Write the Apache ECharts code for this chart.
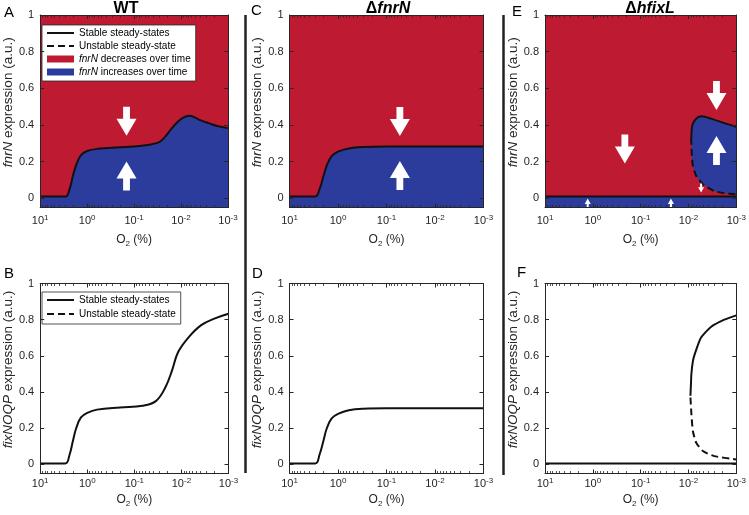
<!DOCTYPE html>
<html><head><meta charset="utf-8">
<script src="https://cdn.jsdelivr.net/npm/echarts@6/dist/echarts.min.js"></script>
<style>html,body{margin:0;padding:0;background:#fff}#c{width:749px;height:515px}</style>
</head><body><div id="c"></div>
<script>
// ---------------- data ----------------
const Y_TICKS = [0, 0.2, 0.4, 0.6, 0.8, 1];
// minor tick positions of the logarithmic O2 axis
const O2_MINOR_TICKS = [9, 8, 7, 6, 5, 4, 3, 2,
  0.9, 0.8, 0.7, 0.6, 0.5, 0.4, 0.3, 0.2,
  0.09, 0.08, 0.07, 0.06, 0.05, 0.04, 0.03, 0.02,
  0.009, 0.008, 0.007, 0.006, 0.005, 0.004, 0.003, 0.002];

// Panel A: WT, fnrN stable steady state
const wtFnrO2  = [10, 2.9, 2.37, 2.02, 1.72, 1.36, 1.0, 0.6, 0.2, 0.1, 0.056, 0.03, 0.022, 0.016, 0.012, 0.009, 0.0066, 0.005, 0.0038, 0.0026, 0.0017, 0.001];
const wtFnrVal = [0.01, 0.01, 0.05, 0.12, 0.18, 0.235, 0.258, 0.27, 0.278, 0.283, 0.29, 0.305, 0.335, 0.38, 0.415, 0.44, 0.45, 0.44, 0.425, 0.41, 0.395, 0.383];

// Panel B: WT, fixNOQP stable steady state
const wtFixO2  = [10, 2.95, 2.37, 2.02, 1.72, 1.36, 1.0, 0.62, 0.2, 0.067, 0.035, 0.022, 0.0158, 0.0118, 0.0072, 0.0038, 0.002, 0.001];
const wtFixVal = [0.005, 0.005, 0.055, 0.13, 0.2, 0.26, 0.285, 0.303, 0.315, 0.324, 0.35, 0.425, 0.52, 0.62, 0.70, 0.77, 0.806, 0.833];

// Panel C: dfnrN, fnrN stable steady state
const dfnrFnrO2  = [10, 2.95, 2.4, 2.0, 1.7, 1.35, 1.0, 0.6, 0.3, 0.1, 0.01, 0.001];
const dfnrFnrVal = [0.01, 0.01, 0.05, 0.12, 0.18, 0.23, 0.255, 0.272, 0.28, 0.283, 0.283, 0.283];

// Panel D: dfnrN, fixNOQP stable steady state
const dfnrFixO2  = [10, 2.95, 2.4, 2.0, 1.7, 1.35, 1.0, 0.6, 0.3, 0.1, 0.01, 0.001];
const dfnrFixVal = [0.005, 0.005, 0.055, 0.13, 0.2, 0.255, 0.28, 0.3, 0.308, 0.31, 0.31, 0.31];

// Panel E: dhfixL, fnrN
const dfixFnrLowO2  = [10, 0.001];
const dfixFnrLowVal = [0.01, 0.01];
const dfixFnrUpO2   = [0.0087, 0.0086, 0.0083, 0.0074, 0.0063, 0.0052, 0.0034, 0.00178, 0.001];
const dfixFnrUpVal  = [0.33, 0.37, 0.40, 0.425, 0.443, 0.448, 0.435, 0.41, 0.39];
const dfixFnrUnO2   = [0.0088, 0.00868, 0.0085, 0.0081, 0.0069, 0.005, 0.0029, 0.00178, 0.001];
const dfixFnrUnVal  = [0.33, 0.28, 0.23, 0.177, 0.122, 0.077, 0.04, 0.028, 0.022];

// Panel F: dhfixL, fixNOQP
const dfixFixLowO2  = [10, 0.001];
const dfixFixLowVal = [0.005, 0.005];
const dfixFixUpO2   = [0.0091, 0.0089, 0.0087, 0.0081, 0.0074, 0.0055, 0.0034, 0.00178, 0.001];
const dfixFixUpVal  = [0.38, 0.44, 0.50, 0.57, 0.61, 0.70, 0.76, 0.80, 0.824];
const dfixFixUnO2   = [0.0091, 0.0087, 0.0081, 0.0069, 0.005, 0.0029, 0.001];
const dfixFixUnVal  = [0.37, 0.28, 0.185, 0.12, 0.074, 0.046, 0.028];

// arrows (O2 %, expression) and direction
const arrowsA = [[0.145, 0.42], [0.145, 0.122]];
const arrowsADir = ['down', 'up'];
const arrowsC = [[0.053, 0.419], [0.053, 0.124]];
const arrowsCDir = ['down', 'up'];
const arrowsE = [[0.214, 0.269], [0.0026, 0.561], [0.0026, 0.261]];
const arrowsEDir = ['down', 'down', 'up'];
const smallArrowsE = [[0.00545, 0.056], [1.28, -0.026], [0.0233, -0.026]];
const smallArrowsEDir = ['down', 'up', 'up'];

// ---------------- styling ----------------
const RED = '#BE1B32', BLUE = '#2B3C9D', INK = '#262626', CURVE = '#111111';
const FONT = 'Liberation Sans, Arial, Helvetica, sans-serif';
const DOWN = 'path://M6.6,0L13.4,0L13.4,12L20,12L10,29L0,12L6.6,12Z';
const UP = 'path://M10,0L20,17L13.4,17L13.4,29L6.6,29L6.6,17L0,17Z';

const zip = (xs, ys) => xs.map((x, i) => [x, ys[i]]);

const grids = [
  {left: 34, top: 15, width: 194, height: 192.5},
  {left: 289.5, top: 15, width: 194, height: 192.5},
  {left: 545, top: 15, width: 194, height: 192.5},
  {left: 34.5, top: 283.5, width: 194, height: 190},
  {left: 289.5, top: 283.5, width: 194, height: 190},
  {left: 545, top: 283.5, width: 194, height: 190}
].map((g, i) => Object.assign(g, {
  show: true, borderWidth: 0,
  backgroundColor: i < 3 ? RED : '#ffffff'
}));

const xAxes = [], yAxes = [];
grids.forEach((g, i) => {
  const topRow = i < 3;
  const base = {
    type: 'log', logBase: 10, min: 0.001, max: 10, inverse: true, gridIndex: i, z: 10,
    splitLine: {show: false},
    axisLine: {show: true, onZero: false, lineStyle: {color: INK, width: 1}},
    axisTick: {show: true, inside: true, length: 4, lineStyle: {color: INK}}
  };
  xAxes.push(Object.assign({}, base, {
    position: 'bottom',
    name: 'O{sub|2} (%)', nameLocation: 'middle', nameGap: topRow ? 25 : 19,
    nameTextStyle: {fontSize: 12, color: INK, fontFamily: FONT,
      rich: {sub: {fontSize: 8, color: INK, fontFamily: FONT, padding: [7, 0, 0, 0]}}},
    axisLabel: {
      margin: topRow ? 6 : 3, color: INK,
      formatter: v => '{b|10}{s|' + Math.round(Math.log10(v)) + '}',
      rich: {
        b: {fontSize: 11, color: INK, fontFamily: FONT},
        s: {fontSize: 8, color: INK, fontFamily: FONT, padding: [0, 0, 7, 0]}
      }
    }
  }));
  xAxes.push(Object.assign({}, base, {position: 'top', axisLabel: {show: false}}));
  const ybase = {
    type: 'value', min: -0.05, max: 1, gridIndex: i, z: 10,
    splitLine: {show: false},
    axisLine: {show: true, onZero: false, lineStyle: {color: INK, width: 1}},
    axisTick: {show: true, inside: true, length: 4, customValues: Y_TICKS, lineStyle: {color: INK}}
  };
  yAxes.push(Object.assign({}, ybase, {
    position: 'left',
    name: topRow ? '{i|fnrN} expression (a.u.)' : '{i|fixNOQP} expression (a.u.)',
    nameLocation: 'middle', nameRotate: 90, nameGap: 2,
    nameTextStyle: {fontSize: 13.5, color: INK, fontFamily: FONT, padding: [0, 0, 0, 18],
      rich: {i: {fontSize: 13.5, fontStyle: 'italic', color: INK, fontFamily: FONT}}},
    axisLabel: {customValues: Y_TICKS, margin: 6, fontSize: 11, color: INK, fontFamily: FONT}
  }));
  yAxes.push(Object.assign({}, ybase, {position: 'right', axisLabel: {show: false}}));
});

function curve(name, g, xs, ys, opts) {
  return Object.assign({
    type: 'line', name: name, xAxisIndex: 2 * g, yAxisIndex: 2 * g,
    data: zip(xs, ys), symbol: 'none', smooth: 0.4,
    lineStyle: {color: CURVE, width: 2}, itemStyle: {color: CURVE},
    silent: true, z: 3
  }, opts || {});
}
function arrows(g, pts, dirs, w, h) {
  return {
    type: 'scatter', xAxisIndex: 2 * g, yAxisIndex: 2 * g, silent: true, z: 6,
    itemStyle: {color: '#ffffff', opacity: 1},
    data: pts.map((p, i) => ({value: p, symbol: dirs[i] === 'down' ? DOWN : UP, symbolSize: [w, h]}))
  };
}
// minor ticks of the log axis, placed through the axis scale
function minorTicks(g) {
  return {
    type: 'custom', xAxisIndex: 2 * g, yAxisIndex: 2 * g, silent: true, z: 11,
    data: O2_MINOR_TICKS.map(v => [v, 0]),
    renderItem: (params, api) => {
      const cs = params.coordSys;
      const x = Math.round(api.coord([api.value(0), 0])[0]) + 0.5;
      const st = {stroke: INK, lineWidth: 0.8};
      return {type: 'group', children: [
        {type: 'line', shape: {x1: x, y1: cs.y + cs.height, x2: x, y2: cs.y + cs.height - 2.5}, style: st},
        {type: 'line', shape: {x1: x, y1: cs.y, x2: x, y2: cs.y + 2.5}, style: st}
      ]};
    }
  };
}
const blueArea = {color: BLUE, opacity: 1, origin: 'start'};
const redArea = {color: RED, opacity: 1, origin: 'start'};
const dashed = {color: CURVE, width: 2, type: [7, 4]};

const series = [
  // A
  curve('Stable steady-states', 0, wtFnrO2, wtFnrVal, {areaStyle: blueArea}),
  {type: 'line', name: 'Unstable steady-state', xAxisIndex: 0, yAxisIndex: 0, data: [], symbol: 'none',
   lineStyle: dashed, itemStyle: {color: CURVE}},
  {type: 'line', name: 'fnrN decreases over time', xAxisIndex: 0, yAxisIndex: 0, data: [], symbol: 'none',
   itemStyle: {color: RED}, lineStyle: {color: RED}},
  {type: 'line', name: 'fnrN increases over time', xAxisIndex: 0, yAxisIndex: 0, data: [], symbol: 'none',
   itemStyle: {color: BLUE}, lineStyle: {color: BLUE}},
  arrows(0, arrowsA, arrowsADir, 20, 29),
  // C
  curve('Stable steady-states', 1, dfnrFnrO2, dfnrFnrVal, {areaStyle: blueArea}),
  arrows(1, arrowsC, arrowsCDir, 20, 29),
  // E
  curve('Stable steady-states', 2, dfixFnrUpO2, dfixFnrUpVal, {areaStyle: blueArea, smooth: 0.2}),
  curve('Unstable steady-state', 2, dfixFnrUnO2, dfixFnrUnVal, {areaStyle: redArea, lineStyle: dashed, smooth: 0.2}),
  curve('Stable steady-states', 2, dfixFnrLowO2, dfixFnrLowVal, {areaStyle: blueArea, smooth: false}),
  arrows(2, arrowsE, arrowsEDir, 20, 29),
  arrows(2, smallArrowsE, smallArrowsEDir, 6, 9),
  // B
  curve('Stable steady-states', 3, wtFixO2, wtFixVal),
  // D
  curve('Stable steady-states', 4, dfnrFixO2, dfnrFixVal),
  // F
  curve('Stable steady-states', 5, dfixFixUpO2, dfixFixUpVal, {smooth: 0.2}),
  curve('Unstable steady-state', 5, dfixFixUnO2, dfixFixUnVal, {lineStyle: dashed, smooth: 0.2}),
  curve('Stable steady-states', 5, dfixFixLowO2, dfixFixLowVal, {smooth: false})
].concat([0, 1, 2, 3, 4, 5].map(minorTicks));

const hideDot = {color: 'rgba(0,0,0,0)', borderWidth: 0, opacity: 0};
const legendBase = {
  orient: 'vertical', selectedMode: false, backgroundColor: '#ffffff',
  borderColor: INK, borderWidth: 0.8, borderRadius: 0,
  itemWidth: 27, itemHeight: 7, itemGap: 3, padding: [2, 5, 3, 4],
  textStyle: {fontSize: 10, color: '#000', fontFamily: FONT,
    rich: {i: {fontSize: 10, fontStyle: 'italic', color: '#000', fontFamily: FONT}}},
  formatter: name => name.indexOf('fnrN') === 0 ? '{i|fnrN}' + name.slice(4) : name
};
const legends = [
  Object.assign({}, legendBase, {left: 42, top: 25, padding: [3, 5, 4, 4], data: [
    {name: 'Stable steady-states', itemStyle: hideDot},
    {name: 'Unstable steady-state', itemStyle: hideDot},
    {name: 'fnrN decreases over time', icon: 'rect'},
    {name: 'fnrN increases over time', icon: 'rect'}
  ]}),
  Object.assign({}, legendBase, {left: 42, top: 292, padding: [3, 5, 5, 4], itemGap: 4, data: [
    {name: 'Stable steady-states', itemStyle: hideDot},
    {name: 'Unstable steady-state', itemStyle: hideDot}
  ]})
];

const tStyle = {fontFamily: FONT, color: '#000'};
const titles = [
  {text: 'A', left: 4, top: 5, padding: 0, textStyle: Object.assign({fontSize: 15, fontWeight: 'normal'}, tStyle)},
  {text: 'C', left: 251, top: 3, padding: 0, textStyle: Object.assign({fontSize: 15, fontWeight: 'normal'}, tStyle)},
  {text: 'E', left: 512, top: 4, padding: 0, textStyle: Object.assign({fontSize: 15, fontWeight: 'normal'}, tStyle)},
  {text: 'B', left: 4, top: 266, padding: 0, textStyle: Object.assign({fontSize: 15, fontWeight: 'normal'}, tStyle)},
  {text: 'D', left: 252, top: 266, padding: 0, textStyle: Object.assign({fontSize: 15, fontWeight: 'normal'}, tStyle)},
  {text: 'F', left: 517, top: 265, padding: 0, textStyle: Object.assign({fontSize: 15, fontWeight: 'normal'}, tStyle)},
  {text: 'WT', left: 126, top: 1, padding: 0, textAlign: 'center',
   textStyle: Object.assign({fontSize: 16, fontWeight: 'bold'}, tStyle)},
  {text: 'Δ{i|fnrN}', left: 388, top: 1, padding: 0, textAlign: 'center',
   textStyle: Object.assign({fontSize: 16, fontWeight: 'bold',
     rich: {i: {fontSize: 16, fontWeight: 'bold', fontStyle: 'italic', fontFamily: FONT, color: '#000'}}}, tStyle)},
  {text: 'Δ{i|hfixL}', left: 650, top: 1, padding: 0, textAlign: 'center',
   textStyle: Object.assign({fontSize: 16, fontWeight: 'bold',
     rich: {i: {fontSize: 16, fontWeight: 'bold', fontStyle: 'italic', fontFamily: FONT, color: '#000'}}}, tStyle)}
];

const chart = echarts.init(document.getElementById('c'), null, {renderer: 'canvas'});
chart.setOption({
  animation: false,
  backgroundColor: '#ffffff',
  textStyle: {fontFamily: FONT},
  title: titles,
  legend: legends,
  grid: grids,
  xAxis: xAxes,
  yAxis: yAxes,
  series: series,
  graphic: [
    {type: 'line', silent: true, shape: {x1: 245.5, y1: 15, x2: 245.5, y2: 473}, style: {stroke: '#222', lineWidth: 2.5}},
    {type: 'line', silent: true, shape: {x1: 503.5, y1: 15, x2: 503.5, y2: 475}, style: {stroke: '#222', lineWidth: 2.5}}
  ]
});
</script>
</body></html>
